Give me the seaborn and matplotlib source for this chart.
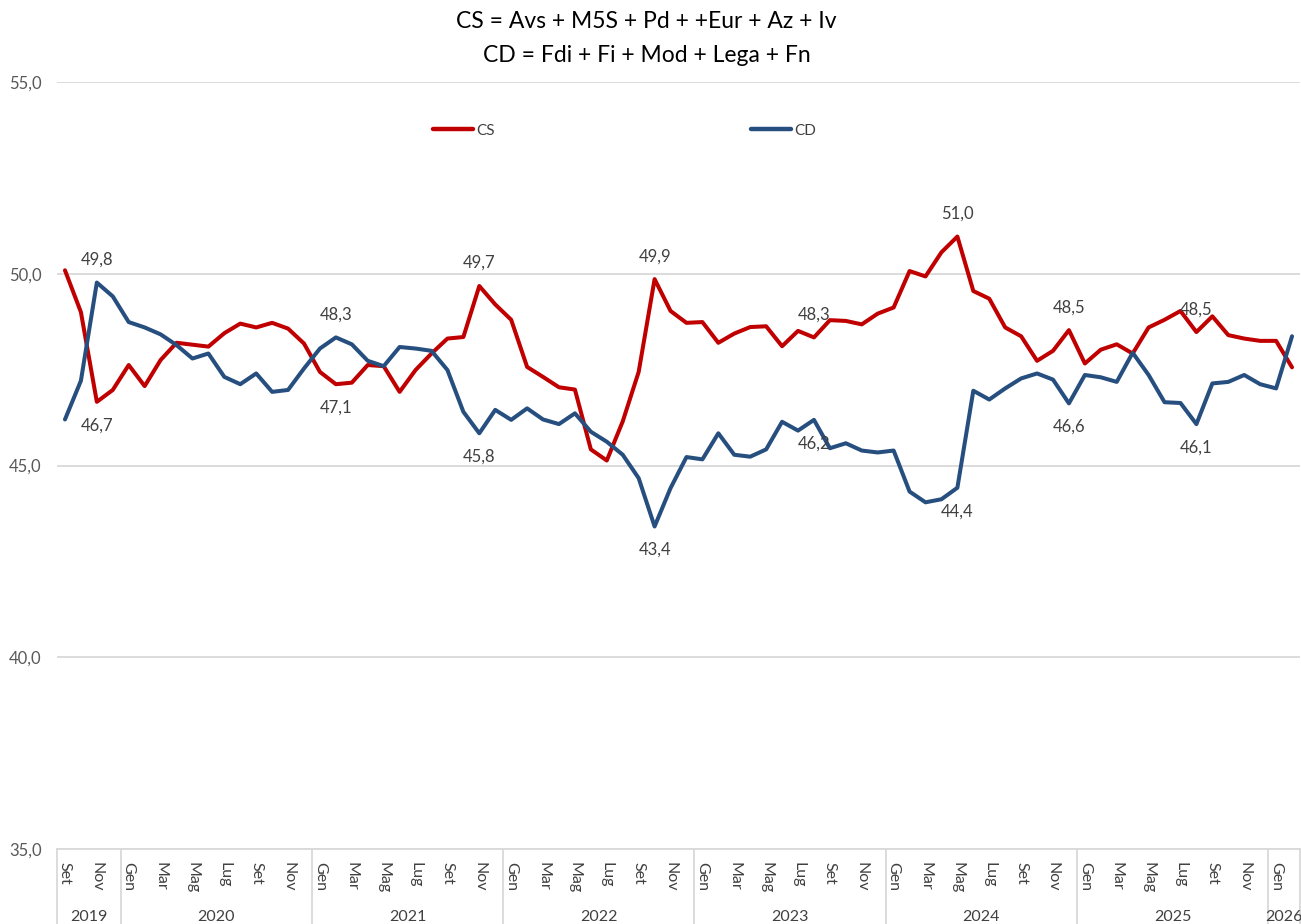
import matplotlib

matplotlib.use("Agg")
import matplotlib.pyplot as plt
import matplotlib.transforms as mtransforms
import pandas as pd
import seaborn as sns

# monthly values, Sep 2019 -> Feb 2026
cs = [
    50.09, 49.00, 46.66, 46.97,  # 2019
    47.62, 47.07, 47.75, 48.20, 48.15, 48.10, 48.45, 48.70, 48.60, 48.72, 48.57, 48.18,  # 2020
    47.44, 47.12, 47.16, 47.62, 47.59, 46.92, 47.49, 47.92, 48.31, 48.35, 49.68, 49.20,  # 2021
    48.80, 47.57, 47.31, 47.04, 46.98, 45.42, 45.13, 46.15, 47.44, 49.86, 49.03, 48.72,  # 2022
    48.74, 48.20, 48.44, 48.61, 48.63, 48.11, 48.51, 48.34, 48.79, 48.77, 48.68, 48.96,  # 2023
    49.12, 50.07, 49.93, 50.56, 50.97, 49.55, 49.35, 48.60, 48.37, 47.73, 47.99, 48.53,  # 2024
    47.66, 48.02, 48.16, 47.92, 48.60, 48.80, 49.03, 48.48, 48.89, 48.40, 48.31, 48.25,  # 2025
    48.25, 47.56,  # 2026
]
cd = [
    46.20, 47.21, 49.77, 49.41,  # 2019
    48.74, 48.60, 48.42, 48.14, 47.79, 47.92, 47.31, 47.12, 47.40, 46.92, 46.97, 47.53,  # 2020
    48.05, 48.34, 48.16, 47.73, 47.59, 48.09, 48.05, 47.99, 47.49, 46.40, 45.84, 46.45,  # 2021
    46.19, 46.49, 46.20, 46.08, 46.36, 45.88, 45.62, 45.28, 44.67, 43.41, 44.41, 45.22,  # 2022
    45.16, 45.84, 45.28, 45.23, 45.42, 46.14, 45.91, 46.19, 45.45, 45.58, 45.39, 45.34,  # 2023
    45.39, 44.32, 44.04, 44.12, 44.42, 46.95, 46.72, 47.01, 47.27, 47.40, 47.24, 46.62,  # 2024
    47.36, 47.30, 47.18, 47.94, 47.36, 46.65, 46.63, 46.08, 47.14, 47.18, 47.36, 47.12,  # 2025
    47.01, 48.37,  # 2026
]
month_abbr = ["Gen", "Feb", "Mar", "Apr", "Mag", "Giu",
              "Lug", "Ago", "Set", "Ott", "Nov", "Dic"]
start_year, start_month = 2019, 9
label_idx = [2, 17, 26, 37, 47, 56, 63, 71]  # points with data labels
y_ticks = [35, 40, 45, 50, 55]
title_lines = ["CS = Avs + M5S + Pd + +Eur + Az + Iv",
               "CD = Fdi + Fi + Mod + Lega + Fn"]
colors = {"CS": "#C00000", "CD": "#264E7E"}

n = len(cs)
years, months = [], []
for k in range(n):
    m = start_month - 1 + k
    years.append(start_year + m // 12)
    months.append(month_abbr[m % 12])

df = pd.DataFrame({
    "idx": list(range(n)) * 2,
    "value": cs + cd,
    "serie": ["CS"] * n + ["CD"] * n,
})

sns.set_style("white")
plt.rcParams["font.family"] = ["Lato", "DejaVu Sans"]

W, H = 1301, 924
fig = plt.figure(figsize=(W / 100, H / 100), dpi=100)
left, right, top, bottom = 57, 1300, 82, 849
ax = fig.add_axes([left / W, 1 - bottom / H, (right - left) / W, (bottom - top) / H])

sns.lineplot(data=df, x="idx", y="value", hue="serie", palette=colors,
             linewidth=2.9, ax=ax)

ax.set_xlim(-0.5, n - 0.5)
ax.set_ylim(35, 55)
ax.set_xlabel("")
ax.set_ylabel("")

grid_col = "#d9d9d9"
ax.set_yticks(y_ticks)
ax.set_yticklabels([f"{v:.1f}".replace(".", ",") for v in y_ticks])
ax.yaxis.grid(True, color=grid_col, linewidth=1.3)
ax.set_axisbelow(True)
for side in ["top", "right", "left"]:
    ax.spines[side].set_visible(False)
ax.spines["bottom"].set_color(grid_col)
ax.spines["bottom"].set_linewidth(1.3)
ax.tick_params(axis="y", length=0, pad=11, labelsize=12, labelcolor="#595959")

tick_pos = list(range(0, n, 2))
ax.set_xticks(tick_pos)
ax.set_xticklabels([months[i] for i in tick_pos], rotation=270)
ax.tick_params(axis="x", length=0, pad=9, labelsize=11.5, labelcolor="#404040")

# year groups below the month labels
blend = mtransforms.blended_transform_factory(ax.transData, ax.transAxes)
ax_h = bottom - top
sep_bottom = -(H - bottom) / ax_h
year_y = -(917 - bottom) / ax_h
bounds = [-0.5]
for k in range(1, n):
    if years[k] != years[k - 1]:
        bounds.append(k - 0.5)
bounds.append(n - 0.5)
for b in bounds:
    ax.plot([b, b], [0, sep_bottom], transform=blend, color=grid_col,
            linewidth=1.3, clip_on=False)
for a, b in zip(bounds[:-1], bounds[1:]):
    yr = years[int(a + 0.5)]
    ax.text((a + b) / 2, year_y, str(yr), transform=blend, ha="center",
            va="center", fontsize=11.5, color="#404040")

# data labels: higher series above, lower below
for i in label_idx:
    for own, other in [(cs, cd), (cd, cs)]:
        up = own[i] >= other[i]
        ax.annotate(f"{own[i]:.1f}".replace(".", ","), (i, own[i]),
                    xytext=(0, 16.5 if up else -17), textcoords="offset points",
                    ha="center", va="center", fontsize=12, color="#404040")

handles, labels = ax.get_legend_handles_labels()
leg = ax.legend(handles, labels, loc="center", ncol=2, frameon=False,
                bbox_to_anchor=(624.5 / W, 1 - 130.7 / H),
                bbox_transform=fig.transFigure, fontsize=11,
                handlelength=2.6, handletextpad=0.2, columnspacing=16.8,
                labelcolor="#404040")
for line in leg.get_lines():
    line.set_linewidth(3.2)

fig.text(0.497, 1 - 28.3 / H, title_lines[0], ha="center", va="baseline",
         fontsize=16.5, color="black")
fig.text(0.497, 1 - 61.7 / H, title_lines[1], ha="center", va="baseline",
         fontsize=16.5, color="black")

fig.savefig("out.png", dpi=100)
